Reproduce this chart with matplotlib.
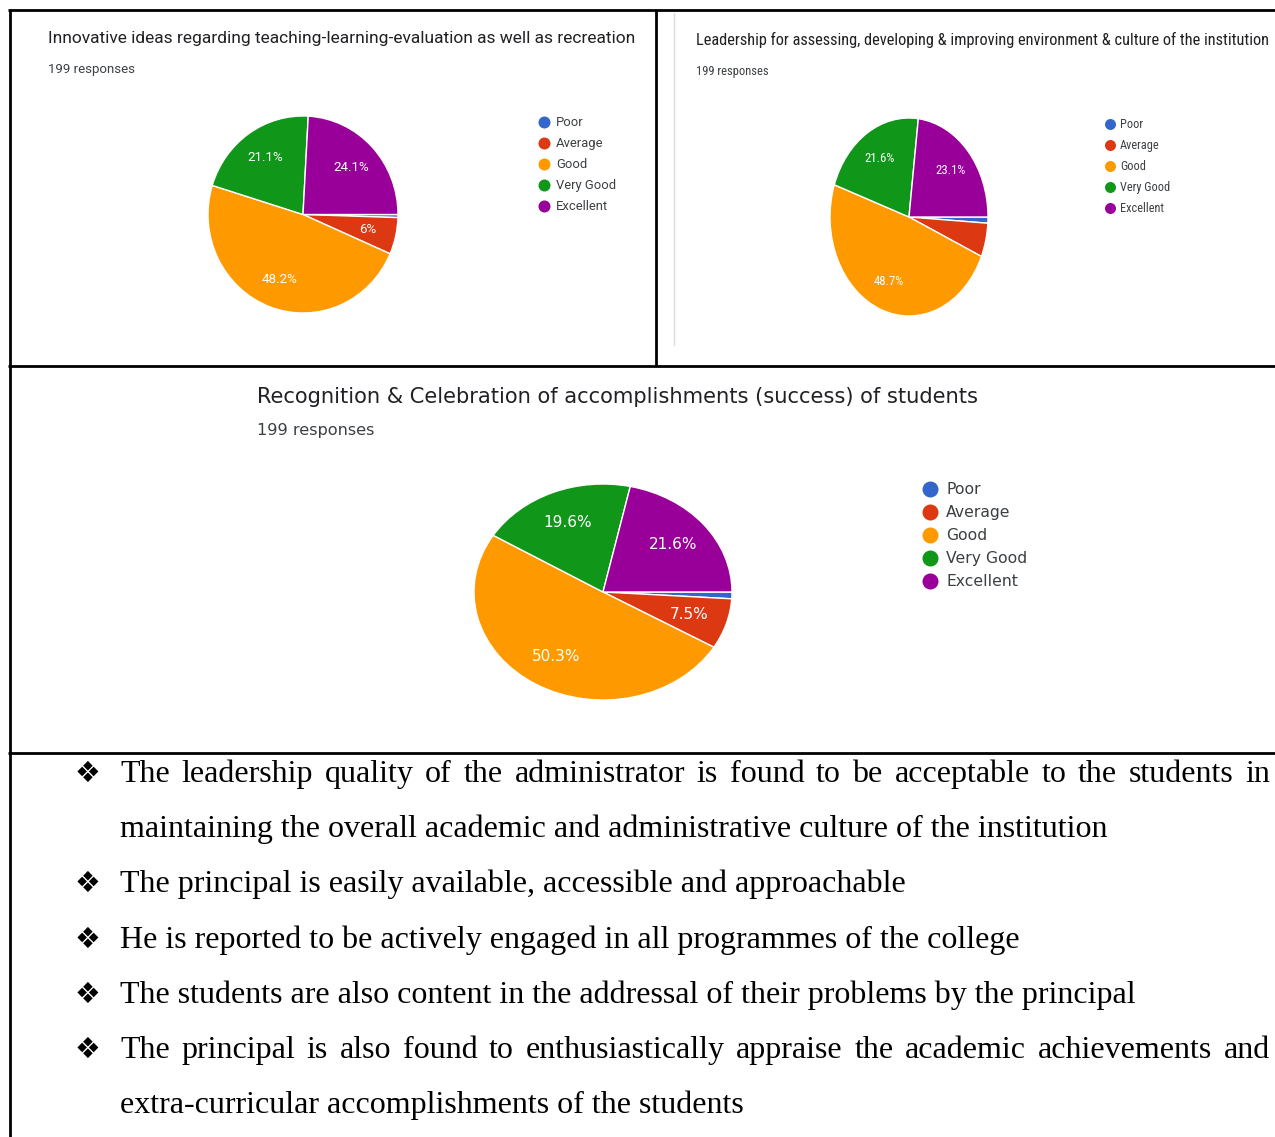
import matplotlib
matplotlib.use('Agg')
import matplotlib.pyplot as plt
from matplotlib import font_manager

W, H = 1275, 1137

CATEGORIES = ['Poor', 'Average', 'Good', 'Very Good', 'Excellent']
COLORS = ['#3366cc', '#dc3912', '#ff9900', '#109618', '#990099']

# response counts (199 responses each), read from the slice percentages
INNOVATIVE = [1, 12, 96, 42, 48]
LEADERSHIP = [2, 11, 97, 43, 46]
RECOGNITION = [2, 15, 100, 39, 43]

TITLES = [
    'Innovative ideas regarding teaching-learning-evaluation as well as recreation',
    'Leadership for assessing, developing & improving environment & culture of the institution',
    'Recognition & Celebration of accomplishments (success) of students',
]
RESPONSES = '199 responses'

BULLETS = [
    ('The leadership quality of the administrator is found to be acceptable to the students in', True, True),
    ('maintaining the overall academic and administrative culture of the institution', False, False),
    ('The principal is easily available, accessible and approachable', True, False),
    ('He is reported to be actively engaged in all programmes of the college', True, False),
    ('The students are also content in the addressal of their problems by the principal', True, False),
    ('The principal is also found to enthusiastically appraise the academic achievements and', True, True),
    ('extra-curricular accomplishments of the students', False, False),
]

# narrow face for the top-right card, if one is installed
installed = {f.name for f in font_manager.fontManager.ttflist}
NARROW = 'Roboto'
for cand in ['Roboto Condensed', 'Liberation Sans Narrow', 'Open Sans Condensed']:
    if cand in installed:
        NARROW = cand
        break

fig = plt.figure(figsize=(W / 100, H / 100), dpi=100)
ov = fig.add_axes([0, 0, 1, 1])
ov.set_xlim(0, W)
ov.set_ylim(H, 0)
ov.axis('off')
renderer = fig.canvas.get_renderer()


def fit_text(x0, x1, y, s, family, color, va='center', **kw):
    t = ov.text(x0, y, s, fontsize=10, family=family, color=color, va=va, ha='left', **kw)
    w = t.get_window_extent(renderer).width
    t.set_fontsize(10 * (x1 - x0) / w)
    return t.get_fontsize()


def text_width(s, size, family):
    t = ov.text(0, 0, s, fontsize=size, family=family)
    w = t.get_window_extent(renderer).width
    t.remove()
    return w


def fmt_pct(p):
    if p < 5.8:
        return ''
    return f'{p:.1f}'.rstrip('0').rstrip('.') + '%'


def draw_pie(vals, cx, cy, rx, ry, lwidth, lfam):
    ax = fig.add_axes([(cx - rx) / W, 1 - (cy + ry) / H, 2 * rx / W, 2 * ry / H])
    lsize = 10 * lwidth / text_width('48.2%', 10, lfam)
    wedges, _, autotexts = ax.pie(vals, colors=COLORS, startangle=0, counterclock=False,
                                  autopct=fmt_pct, pctdistance=0.7,
                                  wedgeprops=dict(edgecolor='white', linewidth=1),
                                  textprops=dict(color='white', fontsize=lsize, family=lfam))
    for w in wedges:
        w.set_clip_on(False)
    ax.set_aspect('auto')
    ax.set_xlim(-1, 1)
    ax.set_ylim(-1, 1)
    ax.axis('off')


def draw_legend(xd, xt, y0, dy, dot, x_vg_end, fam):
    size = 10 * (x_vg_end - xt) / text_width('Very Good', 10, fam)
    for i, (c, col) in enumerate(zip(CATEGORIES, COLORS)):
        y = y0 + i * dy
        ov.plot(xd, y, 'o', color=col, markersize=dot * 0.72, markeredgewidth=0)
        ov.text(xt, y, c, fontsize=size, family=fam, color='#3c4043', va='center')


# ---- frame lines ----
lk = dict(color='black', lw=2, solid_capstyle='butt')
ov.plot([8, W], [10, 10], **lk)
ov.plot([10, 10], [9, H], **lk)
ov.plot([656, 656], [10, 366], **lk)
ov.plot([8, W], [366, 366], **lk)
ov.plot([8, W], [752.5, 752.5], **lk)
ov.plot([674, 674], [13, 345], color='#dadce0', lw=1)

# ---- top-left chart ----
fit_text(48, 638, 38, TITLES[0], 'Roboto', '#202124')
fit_text(48, 135, 69, RESPONSES, 'Roboto', '#3c4043')
draw_pie(INNOVATIVE, 303, 214.5, 95, 98.5, 36, 'Roboto')
draw_legend(544, 556, 122, 21, 12, 616, 'Roboto')

# ---- top-right chart ----
fit_text(696, 1268, 40, TITLES[1], NARROW, '#202124')
fit_text(696, 768, 72, RESPONSES, NARROW, '#3c4043')
draw_pie(LEADERSHIP, 909, 217, 79, 99, 30, NARROW)
draw_legend(1110, 1120, 124, 21, 11, 1170, NARROW)

# ---- bottom chart ----
fit_text(257, 977, 397, TITLES[2], 'DejaVu Sans', '#202124')
fit_text(257, 374, 431, RESPONSES, 'DejaVu Sans', '#3c4043')
draw_pie(RECOGNITION, 603, 592, 129, 108, 48, 'DejaVu Sans')
draw_legend(930, 946, 489, 23, 16, 1027, 'DejaVu Sans')

# ---- bullet text ----
serif = 'Liberation Serif'
body = 10 * 785 / text_width(BULLETS[2][0], 10, serif)
x0, x1 = 120, 1270
for i, (line, bullet, justify) in enumerate(BULLETS):
    yb = 782 + i * 55.2
    if bullet:
        ov.text(87, yb - 8, '\u2756', fontsize=body * 0.9, family='DejaVu Sans',
                ha='center', va='center', color='black')
    if not justify:
        ov.text(x0, yb, line, fontsize=body, family=serif, va='baseline', color='black')
        continue
    words = line.split()
    widths = [text_width(w_, body, serif) for w_ in words]
    gap = (x1 - x0 - sum(widths)) / (len(words) - 1)
    x = x0
    for w_, wd in zip(words, widths):
        ov.text(x, yb, w_, fontsize=body, family=serif, va='baseline', color='black')
        x += wd + gap

fig.savefig('out.png', dpi=100)
